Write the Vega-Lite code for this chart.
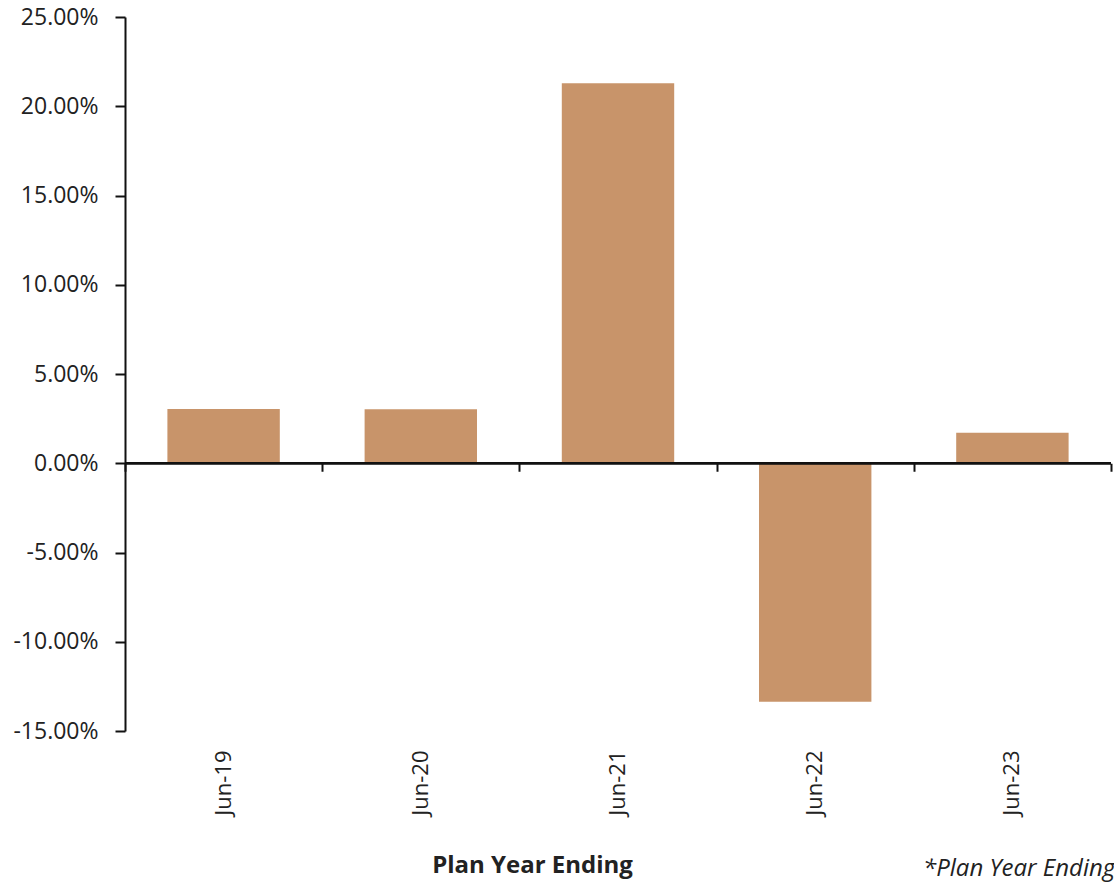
{
  "$schema": "https://vega.github.io/schema/vega-lite/v6.json",
  "autosize": "none",
  "width": 986,
  "height": 714,
  "padding": {"left": 125, "top": 17, "right": 3, "bottom": 151},
  "background": "white",
  "config": {
    "view": {"stroke": null},
    "font": "Open Sans",
    "axis": {"grid": false, "labelFont": "Open Sans", "titleFont": "Open Sans", "labelColor": "#222222", "titleColor": "#222222"}
  },
  "title": {
    "text": "*Plan Year Ending",
    "orient": "bottom",
    "anchor": "start",
    "frame": "group",
    "font": "Open Sans",
    "fontStyle": "italic",
    "fontWeight": "normal",
    "fontSize": 24,
    "color": "#222222",
    "dx": 798,
    "offset": -20
  },
  "data": {
    "values": [
      {"period": "Jun-19", "return": 0.0304},
      {"period": "Jun-20", "return": 0.0302},
      {"period": "Jun-21", "return": 0.2129},
      {"period": "Jun-22", "return": -0.1336},
      {"period": "Jun-23", "return": 0.0171}
    ]
  },
  "layer": [
    {
      "mark": {"type": "bar", "color": "#C8946A"},
      "encoding": {
        "x": {
          "field": "period",
          "type": "ordinal",
          "sort": null,
          "scale": {"paddingInner": 0.43, "paddingOuter": 0.215},
          "axis": {
            "orient": "bottom",
            "domain": false,
            "ticks": false,
            "labelAngle": -90,
            "labelPadding": 19,
            "labelFontSize": 22,
            "title": "Plan Year Ending",
            "titleFontSize": 24,
            "titleFontWeight": "bold",
            "titleX": 407,
            "titleY": 134,
            "titleBaseline": "middle"
          }
        },
        "y": {
          "field": "return",
          "type": "quantitative",
          "scale": {"domain": [-0.15, 0.25], "nice": false, "zero": false},
          "axis": {
            "values": [-0.15, -0.1, -0.05, 0, 0.05, 0.1, 0.15, 0.2, 0.25],
            "labelExpr": "replace(format(datum.value, '.2%'), '\u2212', '-')",
            "domain": true,
            "domainColor": "#111111",
            "domainWidth": 2,
            "ticks": true,
            "tickColor": "#111111",
            "tickWidth": 2,
            "tickSize": 10,
            "labelPadding": 17,
            "labelFontSize": 23,
            "title": null
          }
        }
      }
    },
    {
      "mark": {"type": "rule", "color": "#111111", "strokeWidth": 2},
      "encoding": {
        "y": {"datum": 0, "type": "quantitative"}
      }
    },
    {
      "mark": {"type": "bar", "opacity": 0},
      "encoding": {
        "x": {
          "field": "period",
          "type": "ordinal",
          "sort": null,
          "scale": {"paddingInner": 0, "paddingOuter": 0},
          "axis": {
            "orient": "bottom",
            "offset": -267.75,
            "domain": false,
            "labels": false,
            "ticks": true,
            "tickBand": "extent",
            "tickColor": "#111111",
            "tickWidth": 2,
            "tickSize": 8,
            "title": null
          }
        },
        "y": {"field": "return", "type": "quantitative"}
      }
    }
  ],
  "resolve": {"axis": {"x": "independent"}, "scale": {"x": "independent"}}
}
